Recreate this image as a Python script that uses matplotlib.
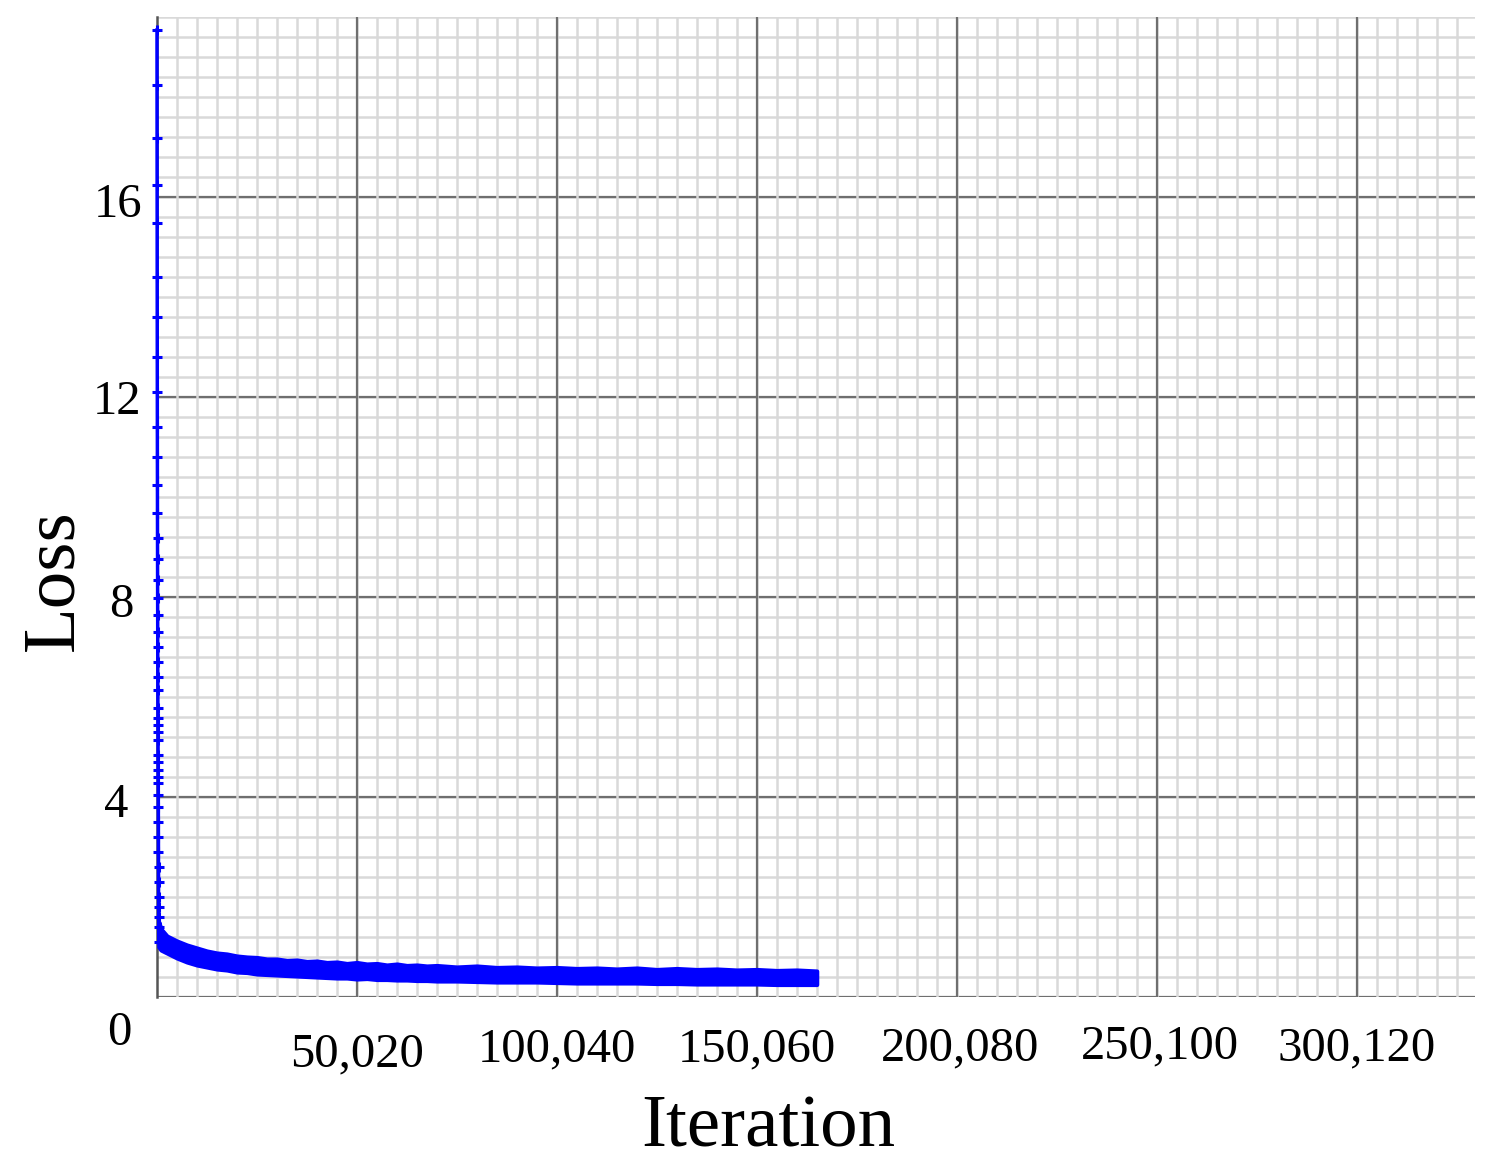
'''
Training loss vs iteration, grid-paper style
'''

# Imports
import numpy as np
import matplotlib
matplotlib.use('Agg')
import matplotlib.pyplot as plt
from matplotlib.transforms import ScaledTranslation

plt.rcParams['font.family'] = ['Liberation Serif', 'DejaVu Serif']

# Data
# first logged points, all squeezed into the first pixel column
iter_start = [0, 10, 20, 30, 40, 50, 60, 70, 80, 90, 100, 110, 120, 130, 140,
              150, 160, 170, 180, 190, 200, 210, 220, 230, 240, 250, 260, 270,
              280, 290, 300, 310, 320, 330, 340, 350, 360, 370, 380, 390, 400,
              410, 420, 430, 440]
loss_start = [19.34, 18.24, 17.18, 16.24, 15.48, 14.40, 13.60, 12.80, 12.10,
              11.40, 10.80, 10.24, 9.68, 9.18, 8.76, 8.34, 7.98, 7.64, 7.30,
              7.00, 6.70, 6.40, 6.14, 5.78, 5.58, 5.44, 5.30, 5.14, 4.84, 4.70,
              4.54, 4.40, 4.28, 4.04, 3.80, 3.50, 3.20, 2.90, 2.60, 2.30, 2.00,
              1.80, 1.60, 1.40, 1.10]

# noisy band afterwards: upper / lower envelope
iter_band = [450, 1000, 2500, 5000, 7500, 10000, 12500, 15000, 17500, 20000,
             22500, 25000, 27500, 30000, 32500, 35000, 37500, 40000, 42500,
             45000, 47500, 50000, 52500, 55000, 57500, 60000, 62500, 65000,
             67500, 70000, 75000, 80000, 85000, 90000, 95000, 100000, 105000,
             110000, 115000, 120000, 125000, 130000, 135000, 140000, 145000,
             150000, 155000, 160000, 165000]
loss_upper = [1.50, 1.36, 1.22, 1.12, 1.04, 0.98, 0.92, 0.88, 0.86, 0.82,
              0.80, 0.79, 0.76, 0.76, 0.73, 0.74, 0.71, 0.72, 0.69, 0.70,
              0.67, 0.69, 0.66, 0.67, 0.64, 0.66, 0.63, 0.64, 0.62, 0.63,
              0.60, 0.62, 0.59, 0.60, 0.58, 0.59, 0.57, 0.58, 0.56, 0.58,
              0.55, 0.57, 0.55, 0.56, 0.54, 0.55, 0.53, 0.54, 0.52]
loss_lower = [1.00, 0.94, 0.88, 0.78, 0.70, 0.64, 0.60, 0.56, 0.54, 0.50,
              0.49, 0.46, 0.45, 0.44, 0.43, 0.42, 0.41, 0.40, 0.39, 0.38,
              0.38, 0.36, 0.37, 0.35, 0.35, 0.34, 0.34, 0.33, 0.33, 0.32,
              0.32, 0.31, 0.30, 0.30, 0.30, 0.29, 0.28, 0.28, 0.28, 0.28,
              0.27, 0.27, 0.26, 0.26, 0.26, 0.26, 0.25, 0.25, 0.25]

x_ticks = [50020, 100040, 150060, 200080, 250100, 300120]
x_tick_labels = ['50,020', '100,040', '150,060', '200,080', '250,100', '300,120']
y_ticks = [0, 4, 8, 12, 16]

# Main Vars
X_MAX = 329632
Y_MAX = 19.6
BLUE = '#0000ff'

# Figure
fig = plt.figure(figsize=(14.98, 11.65), dpi=100)
ax = fig.add_axes([0.1048, 0.1442, 0.8798, 0.8412])
ax.set_xlim(0, X_MAX)
ax.set_ylim(0, Y_MAX)

# grid paper: minor horizontals < major horizontals < minor verticals < major verticals
for y in np.arange(0, Y_MAX + 0.01, 0.4):
    ax.axhline(y, color='#d9d9d9', lw=1.8, zorder=0.5)
for y in np.arange(0, Y_MAX, 4):
    ax.axhline(y, color='#6f6f6f', lw=1.6, zorder=1)
for x in np.arange(5002, X_MAX, 5002):
    ax.axvline(x, color='#d9d9d9', lw=1.8, zorder=1.5)
for x in np.arange(50020, X_MAX, 50020):
    ax.axvline(x, color='#6f6f6f', lw=1.6, zorder=2)

for s in ['top', 'right', 'bottom']:
    ax.spines[s].set_visible(False)
ax.spines['left'].set_color('#555555')
ax.spines['left'].set_linewidth(1.8)
ax.spines['left'].set_zorder(3)

# data
ax.fill_between(iter_band, loss_lower, loss_upper, color=BLUE, lw=3.0,
                edgecolor=BLUE, zorder=4)
ax.plot(iter_start, loss_start, color=BLUE, lw=2.5, marker='+', ms=7, mew=2.2,
        zorder=5, clip_on=False)

# ticks
ax.set_xticks(x_ticks)
ax.set_xticklabels(x_tick_labels)
ax.set_yticks(y_ticks)
ax.tick_params(axis='both', length=0, labelsize=35)
ax.tick_params(axis='x', pad=22)
ax.tick_params(axis='y', pad=14)

x_shift = [(0, -5), (0, 0), (0, 0), (3, 1), (3, 3), (0, 1)]
for lab, (dx, dy) in zip(ax.get_xticklabels(), x_shift):
    lab.set_transform(lab.get_transform() + ScaledTranslation(dx / 100, dy / 100, fig.dpi_scale_trans))
y_shift = [(-6, -31), (-9, -3), (-4, -3), (4, 0), (5, -3)]
for lab, (dx, dy) in zip(ax.get_yticklabels(), y_shift):
    lab.set_transform(lab.get_transform() + ScaledTranslation(dx / 100, dy / 100, fig.dpi_scale_trans))

# axis titles
ax.text(0.464, -0.153, 'Iteration', transform=ax.transAxes, fontsize=54,
        ha='center', va='baseline')
ax.text(-0.0645, 0.4255, 'Loss', transform=ax.transAxes, fontsize=54,
        rotation=90, rotation_mode='anchor', ha='center', va='baseline')

fig.savefig('out.png', dpi=100)
